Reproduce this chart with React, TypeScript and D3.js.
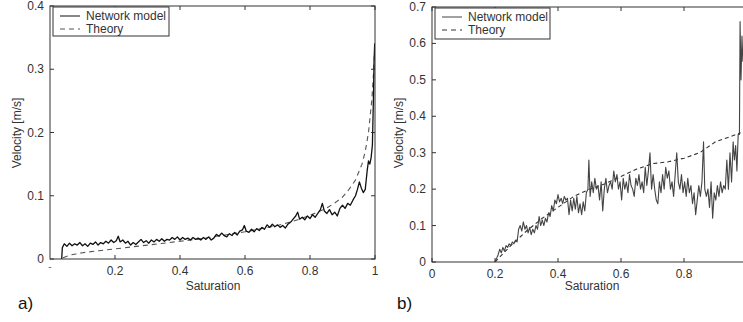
import React, { useEffect, useRef } from 'react';
import * as d3 from 'd3';

// panel a) network model, [saturation, velocity]
const netA: [number, number][] = [
  [0.036, 0], [0.038, 0.018], [0.044, 0.024], [0.052, 0.02], [0.06, 0.025], [0.068, 0.021], [0.076, 0.024],
  [0.084, 0.022], [0.092, 0.026], [0.1, 0.021], [0.108, 0.024], [0.116, 0.02], [0.124, 0.025], [0.132, 0.023],
  [0.14, 0.027], [0.148, 0.022], [0.156, 0.026], [0.164, 0.024], [0.172, 0.028], [0.18, 0.025], [0.188, 0.03],
  [0.196, 0.026], [0.204, 0.029], [0.21, 0.036], [0.216, 0.027], [0.224, 0.03], [0.232, 0.025], [0.24, 0.028],
  [0.248, 0.022], [0.256, 0.026], [0.264, 0.023], [0.272, 0.027], [0.28, 0.031], [0.288, 0.026], [0.296, 0.029],
  [0.304, 0.025], [0.312, 0.03], [0.32, 0.027], [0.328, 0.031], [0.336, 0.028], [0.344, 0.032], [0.352, 0.028],
  [0.36, 0.031], [0.368, 0.03], [0.376, 0.034], [0.384, 0.031], [0.392, 0.035], [0.4, 0.03], [0.408, 0.034],
  [0.416, 0.031], [0.424, 0.033], [0.432, 0.03], [0.44, 0.034], [0.448, 0.031], [0.456, 0.033], [0.464, 0.03],
  [0.472, 0.034], [0.48, 0.031], [0.488, 0.035], [0.496, 0.03], [0.504, 0.033], [0.512, 0.039], [0.52, 0.036],
  [0.528, 0.041], [0.536, 0.037], [0.544, 0.035], [0.552, 0.04], [0.56, 0.037], [0.568, 0.042], [0.576, 0.038],
  [0.584, 0.044], [0.592, 0.046], [0.598, 0.053], [0.604, 0.044], [0.612, 0.042], [0.62, 0.047], [0.628, 0.043],
  [0.636, 0.048], [0.644, 0.045], [0.652, 0.05], [0.66, 0.047], [0.668, 0.054], [0.676, 0.05], [0.684, 0.055],
  [0.692, 0.051], [0.7, 0.054], [0.708, 0.05], [0.716, 0.053], [0.724, 0.049], [0.732, 0.055], [0.74, 0.058],
  [0.748, 0.063], [0.756, 0.068], [0.762, 0.074], [0.768, 0.063], [0.776, 0.066], [0.784, 0.062], [0.792, 0.068],
  [0.8, 0.064], [0.808, 0.07], [0.816, 0.066], [0.824, 0.072], [0.832, 0.078], [0.838, 0.088], [0.844, 0.076],
  [0.852, 0.072], [0.86, 0.078], [0.868, 0.07], [0.876, 0.074], [0.884, 0.068], [0.892, 0.08], [0.9, 0.085],
  [0.908, 0.08], [0.916, 0.088], [0.924, 0.085], [0.932, 0.093], [0.94, 0.1], [0.946, 0.11], [0.952, 0.122],
  [0.958, 0.112], [0.964, 0.105], [0.97, 0.11], [0.976, 0.14], [0.98, 0.155], [0.984, 0.15], [0.988, 0.16],
  [0.992, 0.18], [0.995, 0.25], [0.997, 0.31], [0.999, 0.34], [1.0, 0.33],
];

const theoryA: [number, number][] = [
  [0.04, 0.002], [0.06, 0.006], [0.08, 0.008], [0.1, 0.01], [0.15, 0.013], [0.2, 0.016], [0.25, 0.019],
  [0.3, 0.022], [0.35, 0.025], [0.4, 0.028], [0.45, 0.031], [0.5, 0.035], [0.55, 0.039], [0.6, 0.043],
  [0.65, 0.048], [0.7, 0.053], [0.75, 0.06], [0.8, 0.069], [0.85, 0.08], [0.88, 0.09], [0.9, 0.098],
  [0.92, 0.11], [0.94, 0.125], [0.96, 0.15], [0.97, 0.17], [0.98, 0.2], [0.99, 0.25], [0.995, 0.29], [1.0, 0.34],
];

// panel b) network model
const netB: [number, number][] = [
  [0.2, 0], [0.205, 0.01], [0.21, 0.02], [0.215, 0.035], [0.22, 0.025], [0.225, 0.04], [0.23, 0.03],
  [0.235, 0.045], [0.24, 0.04], [0.245, 0.05], [0.25, 0.045], [0.255, 0.055], [0.26, 0.05], [0.265, 0.06],
  [0.27, 0.055], [0.275, 0.09], [0.28, 0.1], [0.285, 0.085], [0.29, 0.11], [0.295, 0.09], [0.3, 0.1],
  [0.305, 0.08], [0.31, 0.095], [0.315, 0.075], [0.32, 0.09], [0.325, 0.08], [0.33, 0.1], [0.335, 0.09],
  [0.34, 0.125], [0.345, 0.1], [0.35, 0.115], [0.355, 0.1], [0.36, 0.12], [0.365, 0.11], [0.37, 0.135],
  [0.375, 0.125], [0.38, 0.155], [0.385, 0.14], [0.39, 0.17], [0.395, 0.16], [0.4, 0.185], [0.405, 0.165],
  [0.41, 0.175], [0.415, 0.16], [0.42, 0.18], [0.425, 0.17], [0.43, 0.175], [0.435, 0.13], [0.44, 0.17],
  [0.445, 0.14], [0.45, 0.175], [0.455, 0.145], [0.46, 0.18], [0.465, 0.135], [0.47, 0.16], [0.475, 0.13],
  [0.48, 0.165], [0.485, 0.14], [0.49, 0.19], [0.495, 0.2], [0.498, 0.28], [0.502, 0.18], [0.507, 0.22],
  [0.512, 0.19], [0.517, 0.23], [0.522, 0.2], [0.527, 0.21], [0.532, 0.17], [0.537, 0.22], [0.542, 0.14],
  [0.547, 0.2], [0.552, 0.23], [0.557, 0.19], [0.562, 0.21], [0.567, 0.22], [0.572, 0.2], [0.577, 0.25],
  [0.582, 0.22], [0.587, 0.24], [0.592, 0.2], [0.597, 0.22], [0.602, 0.17], [0.607, 0.23], [0.612, 0.2],
  [0.617, 0.22], [0.622, 0.19], [0.627, 0.24], [0.632, 0.21], [0.637, 0.2], [0.642, 0.18], [0.647, 0.23],
  [0.652, 0.21], [0.657, 0.24], [0.662, 0.2], [0.667, 0.22], [0.672, 0.19], [0.677, 0.26], [0.682, 0.21],
  [0.687, 0.25], [0.692, 0.3], [0.697, 0.2], [0.702, 0.24], [0.707, 0.2], [0.712, 0.17], [0.717, 0.16],
  [0.722, 0.22], [0.727, 0.19], [0.732, 0.24], [0.737, 0.2], [0.742, 0.26], [0.747, 0.23], [0.752, 0.25],
  [0.757, 0.2], [0.762, 0.22], [0.767, 0.18], [0.772, 0.24], [0.777, 0.3], [0.782, 0.22], [0.787, 0.2],
  [0.792, 0.24], [0.797, 0.19], [0.802, 0.22], [0.807, 0.18], [0.812, 0.23], [0.817, 0.19], [0.822, 0.21],
  [0.827, 0.16], [0.832, 0.19], [0.837, 0.13], [0.842, 0.17], [0.847, 0.21], [0.852, 0.18], [0.857, 0.22],
  [0.862, 0.33], [0.866, 0.2], [0.871, 0.18], [0.876, 0.2], [0.881, 0.15], [0.886, 0.22], [0.891, 0.12],
  [0.896, 0.19], [0.901, 0.17], [0.906, 0.21], [0.911, 0.18], [0.916, 0.22], [0.921, 0.19], [0.926, 0.21],
  [0.931, 0.2], [0.936, 0.28], [0.941, 0.2], [0.946, 0.3], [0.951, 0.22], [0.956, 0.33], [0.96, 0.28],
  [0.964, 0.32], [0.968, 0.25], [0.972, 0.35], [0.976, 0.35], [0.978, 0.66], [0.981, 0.5], [0.984, 0.62],
  [0.987, 0.55],
];

const theoryB: [number, number][] = [
  [0.2, 0], [0.25, 0.045], [0.3, 0.085], [0.35, 0.12], [0.4, 0.15], [0.45, 0.18], [0.5, 0.2],
  [0.55, 0.215], [0.6, 0.235], [0.65, 0.255], [0.7, 0.27], [0.75, 0.275], [0.8, 0.285], [0.85, 0.3],
  [0.9, 0.33], [0.95, 0.345], [0.98, 0.355],
];

const xTicksA = [0.2, 0.4, 0.6, 0.8, 1];
const yTicksA = [0, 0.1, 0.2, 0.3, 0.4];
const xTicksB = [0, 0.2, 0.4, 0.6, 0.8, 1];
const yTicksB = [0, 0.1, 0.2, 0.3, 0.4, 0.5, 0.6, 0.7];

const FONT = 'Liberation Sans, Arial, sans-serif';

const drawPanel = (svg, opts) => {
  const { left, right, top, bottom, yMax, xTicks, yTicks, net, theory, netColor, netWidth, theoryColor, theoryDash, tag, legend } = opts;
  const x = d3.scaleLinear().domain([0, 1]).range([left, right]);
  const y = d3.scaleLinear().domain([0, yMax]).range([bottom, top]);
  const g = svg.append('g');
  const clipId = 'clip' + tag;

  g.append('clipPath').attr('id', clipId).append('rect')
    .attr('x', left).attr('y', top).attr('width', right - left).attr('height', bottom - top);

  const line = d3.line().x((d) => x(d[0])).y((d) => y(d[1]));

  g.append('path').datum(theory).attr('d', line).attr('fill', 'none')
    .attr('stroke', theoryColor).attr('stroke-width', 1.1).attr('stroke-dasharray', theoryDash)
    .attr('clip-path', `url(#${clipId})`);
  g.append('path').datum(net).attr('d', line).attr('fill', 'none')
    .attr('stroke', netColor).attr('stroke-width', netWidth).attr('stroke-linejoin', 'round')
    .attr('clip-path', `url(#${clipId})`);

  // box
  g.append('rect').attr('x', left).attr('y', top).attr('width', right - left).attr('height', bottom - top)
    .attr('fill', 'none').attr('stroke', '#333').attr('stroke-width', 1);

  // inward ticks
  const tl = 4;
  xTicks.forEach((t) => {
    g.append('line').attr('x1', x(t)).attr('x2', x(t)).attr('y1', bottom).attr('y2', bottom - tl).attr('stroke', '#333');
    g.append('line').attr('x1', x(t)).attr('x2', x(t)).attr('y1', top).attr('y2', top + tl).attr('stroke', '#333');
    if (x(t) < 743)
      g.append('text').text(String(t)).attr('x', x(t)).attr('y', bottom + 16).attr('text-anchor', 'middle')
        .attr('font-family', FONT).attr('font-size', '12px').attr('fill', '#333');
  });
  yTicks.forEach((t) => {
    g.append('line').attr('x1', left).attr('x2', left + tl).attr('y1', y(t)).attr('y2', y(t)).attr('stroke', '#333');
    g.append('line').attr('x1', right).attr('x2', right - tl).attr('y1', y(t)).attr('y2', y(t)).attr('stroke', '#333');
    g.append('text').text(String(t)).attr('x', left - 6).attr('y', y(t) + 4).attr('text-anchor', 'end')
      .attr('font-family', FONT).attr('font-size', '12px').attr('fill', '#333');
  });

  // axis titles
  g.append('text').text('Saturation').attr('x', opts.xTitleX).attr('y', 290).attr('text-anchor', 'middle')
    .attr('font-family', FONT).attr('font-size', '12px').attr('fill', '#333');
  g.append('text').text('Velocity [m/s]').attr('transform', `translate(${opts.yTitleX},133) rotate(-90)`)
    .attr('text-anchor', 'middle').attr('font-family', FONT).attr('font-size', '12px').attr('fill', '#333');

  // panel tag
  g.append('text').text(tag + ')').attr('x', opts.tagX).attr('y', 309)
    .attr('font-family', FONT).attr('font-size', '17px').attr('fill', '#111');

  // legend
  const lg = g.append('g');
  lg.append('rect').attr('x', legend.x).attr('y', legend.y).attr('width', legend.w).attr('height', legend.h)
    .attr('fill', '#fff').attr('stroke', '#333').attr('stroke-width', 1);
  const rows = [
    { label: 'Network model', color: netColor, dash: null },
    { label: 'Theory', color: theoryColor, dash: '5,4' },
  ];
  rows.forEach((r, i) => {
    const yy = legend.y + 9 + i * 13;
    lg.append('line').attr('x1', legend.x + 7).attr('x2', legend.x + 27).attr('y1', yy).attr('y2', yy)
      .attr('stroke', r.color).attr('stroke-width', 1).attr('stroke-dasharray', r.dash);
    lg.append('text').text(r.label).attr('x', legend.x + 33).attr('y', yy + 4)
      .attr('font-family', FONT).attr('font-size', '12px').attr('fill', '#333');
  });
};

const App = () => {
  const chartRef = useRef(null);

  useEffect(() => {
    document.body.style.margin = '0';
    const svg = d3.select(chartRef.current);
    svg.selectAll('*').remove();

    drawPanel(svg, {
      left: 50, right: 375, top: 6, bottom: 259, yMax: 0.4,
      xTicks: xTicksA, yTicks: yTicksA, net: netA, theory: theoryA,
      netColor: '#111', netWidth: 1.3, theoryColor: '#555', theoryDash: '5,4', tag: 'a',
      xTitleX: 213, yTitleX: 21, tagX: 18,
      legend: { x: 53, y: 7, w: 116, h: 29 },
    });
    // little mark below the origin of panel a
    svg.append('text').text('-').attr('x', 50).attr('y', 270).attr('text-anchor', 'middle')
      .attr('font-family', FONT).attr('font-size', '10px').attr('fill', '#666');

    drawPanel(svg, {
      left: 432, right: 747, top: 7, bottom: 262, yMax: 0.7,
      xTicks: xTicksB, yTicks: yTicksB, net: netB, theory: theoryB,
      netColor: '#444', netWidth: 1.1, theoryColor: '#333', theoryDash: '4,3', tag: 'b',
      xTitleX: 592, yTitleX: 403, tagX: 397,
      legend: { x: 435, y: 8, w: 115, h: 31 },
    });
  }, []);

  return <svg ref={chartRef} width={743} height={322} style={{ display: 'block', background: '#fff' }}></svg>;
};

export default App;
